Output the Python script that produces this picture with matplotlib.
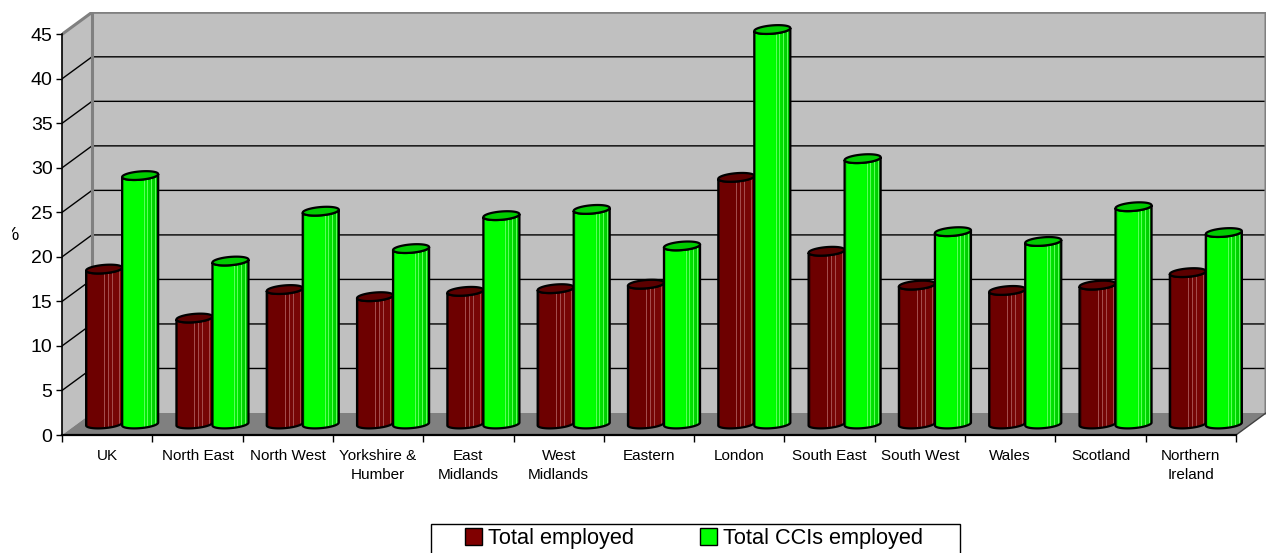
import numpy as np
import matplotlib
matplotlib.use('Agg')
import matplotlib.pyplot as plt
from matplotlib.patches import Polygon, Rectangle, Patch
from matplotlib.transforms import Bbox, TransformedBbox

plt.rcParams['font.family'] = ['Liberation Sans', 'DejaVu Sans']

# data
regions = ['UK', 'North East', 'North West', 'Yorkshire &\nHumber', 'East\nMidlands',
           'West\nMidlands', 'Eastern', 'London', 'South East', 'South West',
           'Wales', 'Scotland', 'Northern\nIreland']
total_employed = [17.4, 11.9, 15.1, 14.3, 14.9, 15.2, 15.7, 27.7, 19.4, 15.6, 15.0, 15.6, 17.0]
cci_employed = [27.9, 18.3, 23.9, 19.7, 23.4, 24.1, 20.0, 44.3, 29.8, 21.6, 20.5, 24.4, 21.5]
series_names = ['Total employed', 'Total CCIs employed']
y_ticks = np.arange(0, 50, 5)

W, H = 1268, 553
fig = plt.figure(figsize=(W / 100, H / 100), dpi=100)

# front plane of the 3d box (pixels) and how far the back wall is pushed
x0_px, x1_px = 62, 1236
y0_px, ytop_px = 435, 34.3
depth_px = (30, 22)
n = len(regions)
ymax = 45
ux = (x1_px - x0_px) / n
uy = (y0_px - ytop_px) / ymax
DX = depth_px[0] / ux
DY = depth_px[1] / uy

ax = fig.add_axes([x0_px / W, (H - y0_px) / H,
                   (x1_px - x0_px + depth_px[0]) / W,
                   (y0_px - ytop_px + depth_px[1]) / H])
ax.set_xlim(0, n + DX)
ax.set_ylim(0, ymax + DY)
ax.set_autoscale_on(False)
ax.patch.set_visible(False)

# walls and floor
ax.add_patch(Polygon([(DX, DY), (n + DX, DY), (n + DX, ymax + DY), (DX, ymax + DY)],
                     facecolor='#C0C0C0', edgecolor='none', zorder=1))
ax.add_patch(Polygon([(0, 0), (DX, DY), (DX, ymax + DY), (0, ymax)],
                     facecolor='#C0C0C0', edgecolor='none', zorder=1))
ax.add_patch(Polygon([(0, 0), (n, 0), (n + DX, DY), (DX, DY)],
                     facecolor='#808080', edgecolor='none', zorder=1.1))
for v in y_ticks[1:-1]:
    ax.plot([0, DX, n + DX], [v, v + DY, v + DY], color='black', lw=1, zorder=1.5)
ax.plot([0, DX, n + DX, n + DX], [ymax, ymax + DY, ymax + DY, DY],
        color='#808080', lw=2.2, zorder=1.6, solid_joinstyle='miter')
ax.plot([DX, DX], [DY, ymax + DY], color='#808080', lw=2.2, zorder=1.6)
ax.plot([n, n + DX], [0, DY], color='#404040', lw=1, zorder=1.6)

# cylinders
RX = 17 / ux          # radius across
RD = 0.2              # radius in depth, as a share of the box depth
half = 18 / ux        # shift of each cylinder from the pair centre
t0 = np.arctan2(RD * DX, RX)


def ring(cx, cy, t):
    return cx + RX * np.cos(t) + RD * DX * np.sin(t), cy + RD * DY * np.sin(t)


def shade(kind, m=120):
    u = np.linspace(0, 1, m)
    img = np.zeros((1, m, 3))
    if kind == 'red':
        base = np.array([0.43, 0.0, 0.0])
        img[0] = base
        img[0, u > 0.6] = [0.47, 0.02, 0.02]
        for s in (0.5, 0.6, 0.72, 0.84, 0.9):
            img[0, np.abs(u - s) < 0.012] = [0.64, 0.3, 0.3]
        img[0, u < 0.04] = [0.33, 0.0, 0.0]
    else:
        g = np.where(u < 0.55, 1.0, 1.0 - (u - 0.55) / 0.45 * 0.27)
        img[0, :, 1] = g
        for s in (0.6, 0.7, 0.8, 0.9):
            img[0, np.abs(u - s) < 0.012] = [0.35, 1.0, 0.35]
        img[0, u < 0.04] = [0.0, 0.88, 0.0]
    return img


def cylinder(cx, value, kind, z):
    cx = cx + 0.5 * DX
    base = 0.5 * DY
    top = value + 0.5 * DY
    t_front = np.linspace(t0 - np.pi, t0, 60)
    bx, by = ring(cx, base, t_front)
    tx, ty = ring(cx, top, t_front[::-1])
    body = Polygon(np.column_stack([np.r_[bx, tx], np.r_[by, ty]]), closed=True,
                   facecolor='none', edgecolor='black', lw=1.6, zorder=z + 0.002)
    ax.add_patch(body)
    w = np.hypot(RX, RD * DX)
    im = ax.imshow(shade(kind), extent=(cx - w, cx + w, base - DY, top + DY),
                   aspect='auto', interpolation='nearest', zorder=z + 0.001)
    im.set_clip_path(body)
    t_all = np.linspace(0, 2 * np.pi, 100)
    cx_, cy_ = ring(cx, top, t_all)
    cap = '#5C0000' if kind == 'red' else '#00CC00'
    ax.add_patch(Polygon(np.column_stack([cx_, cy_]), closed=True, facecolor=cap,
                         edgecolor='black', lw=1.6, zorder=z + 0.003))


for i in range(n):
    z = 3 + i * 0.02
    cylinder(i + 0.5 - half, total_employed[i], 'red', z)
    cylinder(i + 0.5 + half, cci_employed[i], 'green', z + 0.01)

# front axes
for side in ('top', 'right'):
    ax.spines[side].set_visible(False)
ax.spines['left'].set_bounds(0, ymax)
ax.spines['bottom'].set_bounds(0, n)
ax.spines['left'].set_linewidth(1.2)
ax.spines['bottom'].set_linewidth(1.6)
ax.spines['left'].set_zorder(5)
ax.spines['bottom'].set_zorder(5)

ax.set_yticks(y_ticks)
ax.set_yticklabels([str(v) for v in y_ticks])
ax.tick_params(axis='y', direction='out', length=4.3, width=1, pad=2.5, labelsize=14)

ax.set_xticks(np.arange(n + 1))
ax.set_xticklabels([''] * (n + 1))
ax.set_xticks(np.arange(n) + 0.5, labels=regions, minor=True)
ax.tick_params(axis='x', which='major', direction='out', length=5, width=1)
ax.tick_params(axis='x', which='minor', length=0, pad=10, labelsize=11)
for lbl in ax.get_xticklabels(minor=True):
    lbl.set_linespacing(1.5)

pct = fig.text(19 / W, 1 - 236 / H, '%', ha='right', va='center', fontsize=14)
pct.set_clip_box(TransformedBbox(Bbox.from_extents(12 / W, 0, 1, 1), fig.transFigure))
pct.set_clip_on(True)

# legend
handles = [Patch(facecolor='#800000', edgecolor='black', lw=1),
           Patch(facecolor='#00FF00', edgecolor='black', lw=1)]
fig.legend(handles, series_names, loc='upper left', bbox_to_anchor=(465 / W, 1 - 528 / H),
           ncol=2, frameon=False, fontsize=15.7, handlelength=0.78, handleheight=0.78,
           handletextpad=0.28, columnspacing=3.0, borderpad=0, borderaxespad=0)
fig.add_artist(Rectangle((431 / W, 1 - 575 / H), (960 - 431) / W, (575 - 524) / H,
                         transform=fig.transFigure, fill=False, edgecolor='black', lw=1))

fig.savefig('out.png', dpi=100)
